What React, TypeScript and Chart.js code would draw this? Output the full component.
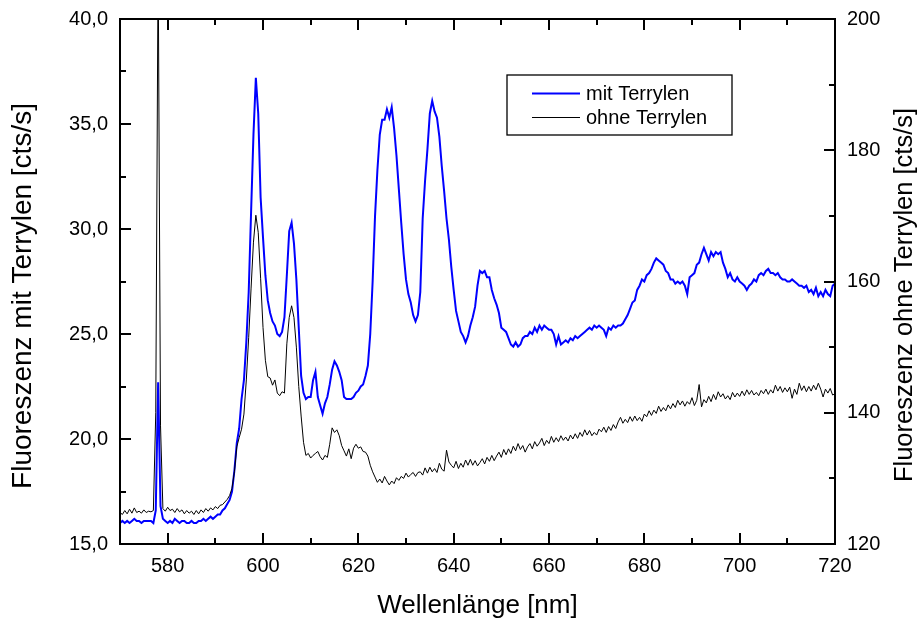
import React, { useEffect, useRef } from "react";
import { Chart, registerables } from "chart.js";

Chart.register(...registerables);

// Wavelength grid [nm]
const wavelengths = [
  570, 570.5, 571, 571.5, 572, 572.5, 573, 573.5, 574, 574.5,
  575, 575.5, 576, 576.5, 577, 577.5, 578, 578.5, 579, 579.5,
  580, 580.5, 581, 581.5, 582, 582.5, 583, 583.5, 584, 584.5,
  585, 585.5, 586, 586.5, 587, 587.5, 588, 588.5, 589, 589.5,
  590, 590.5, 591, 591.5, 592, 592.5, 593, 593.5, 594, 594.5,
  595, 595.5, 596, 596.5, 597, 597.5, 598, 598.5, 599, 599.5,
  600, 600.5, 601, 601.5, 602, 602.5, 603, 603.5, 604, 604.5,
  605, 605.5, 606, 606.5, 607, 607.5, 608, 608.5, 609, 609.5,
  610, 610.5, 611, 611.5, 612, 612.5, 613, 613.5, 614, 614.5,
  615, 615.5, 616, 616.5, 617, 617.5, 618, 618.5, 619, 619.5,
  620, 620.5, 621, 621.5, 622, 622.5, 623, 623.5, 624, 624.5,
  625, 625.5, 626, 626.5, 627, 627.5, 628, 628.5, 629, 629.5,
  630, 630.5, 631, 631.5, 632, 632.5, 633, 633.5, 634, 634.5,
  635, 635.5, 636, 636.5, 637, 637.5, 638, 638.5, 639, 639.5,
  640, 640.5, 641, 641.5, 642, 642.5, 643, 643.5, 644, 644.5,
  645, 645.5, 646, 646.5, 647, 647.5, 648, 648.5, 649, 649.5,
  650, 650.5, 651, 651.5, 652, 652.5, 653, 653.5, 654, 654.5,
  655, 655.5, 656, 656.5, 657, 657.5, 658, 658.5, 659, 659.5,
  660, 660.5, 661, 661.5, 662, 662.5, 663, 663.5, 664, 664.5,
  665, 665.5, 666, 666.5, 667, 667.5, 668, 668.5, 669, 669.5,
  670, 670.5, 671, 671.5, 672, 672.5, 673, 673.5, 674, 674.5,
  675, 675.5, 676, 676.5, 677, 677.5, 678, 678.5, 679, 679.5,
  680, 680.5, 681, 681.5, 682, 682.5, 683, 683.5, 684, 684.5,
  685, 685.5, 686, 686.5, 687, 687.5, 688, 688.5, 689, 689.5,
  690, 690.5, 691, 691.5, 692, 692.5, 693, 693.5, 694, 694.5,
  695, 695.5, 696, 696.5, 697, 697.5, 698, 698.5, 699, 699.5,
  700, 700.5, 701, 701.5, 702, 702.5, 703, 703.5, 704, 704.5,
  705, 705.5, 706, 706.5, 707, 707.5, 708, 708.5, 709, 709.5,
  710, 710.5, 711, 711.5, 712, 712.5, 713, 713.5, 714, 714.5,
  715, 715.5, 716, 716.5, 717, 717.5, 718, 718.5, 719, 719.5,
  720,
];

// Fluoreszenz mit Terrylen [cts/s] (left axis)
const mitTerrylen = [
  16.0, 16.1, 16.0, 16.1, 16.0, 16.1, 16.2, 16.1, 16.1, 16.0,
  16.1, 16.1, 16.1, 16.1, 16.0, 16.6, 22.7, 16.8, 16.2, 16.1,
  16.0, 16.1, 16.0, 16.2, 16.1, 16.0, 16.1, 16.1, 16.0, 16.0,
  16.1, 16.0, 16.0, 16.1, 16.1, 16.2, 16.1, 16.2, 16.3, 16.2,
  16.3, 16.4, 16.4, 16.6, 16.7, 16.9, 17.1, 17.5, 18.5, 19.8,
  20.5, 21.9, 22.8, 24.6, 27.0, 30.8, 34.5, 37.2, 35.5, 31.5,
  29.6, 27.8, 26.6, 26.0, 25.6, 25.4, 25.0, 24.9, 25.1, 25.8,
  27.8, 29.9, 30.3, 29.3, 27.6, 25.3, 23.0, 22.2, 21.9, 22.0,
  22.0, 22.8, 23.2, 22.0, 21.6, 21.2, 21.7, 22.0, 22.6, 23.3,
  23.7, 23.5, 23.2, 22.8, 22.0, 21.9, 21.9, 21.9, 22.0, 22.2,
  22.3, 22.5, 22.6, 23.0, 23.5, 25.0, 27.5, 30.6, 32.8, 34.5,
  35.2, 35.2, 35.7, 35.3, 35.8, 34.8, 33.5, 31.9, 30.3, 28.8,
  27.6, 26.9, 26.5, 25.9, 25.6, 25.9, 27.0, 30.5, 32.3, 33.8,
  35.5, 36.1, 35.6, 35.3, 34.4, 33.0, 31.8, 30.5, 29.5, 28.2,
  27.1, 26.1, 25.6, 25.1, 24.9, 24.6, 24.9, 25.4, 25.8, 26.3,
  27.3, 28.0, 27.9, 28.0, 27.7, 27.7, 27.1, 26.7, 26.4, 26.0,
  25.3, 25.2, 25.1, 24.8, 24.5, 24.4, 24.6, 24.4, 24.5, 24.8,
  24.9, 24.9, 25.1, 25.0, 25.3, 25.1, 25.4, 25.2, 25.4, 25.3,
  25.2, 25.2, 25.0, 24.5, 24.9, 24.5, 24.6, 24.7, 24.6, 24.8,
  24.7, 24.9, 24.8, 24.9, 25.0, 25.1, 25.2, 25.3, 25.2, 25.4,
  25.3, 25.4, 25.3, 25.2, 24.9, 25.3, 25.2, 25.4, 25.3, 25.4,
  25.4, 25.5, 25.7, 25.9, 26.2, 26.5, 26.6, 27.1, 27.3, 27.6,
  27.5, 27.8, 27.9, 28.1, 28.4, 28.6, 28.5, 28.4, 28.3, 28.0,
  27.9, 27.6, 27.6, 27.4, 27.5, 27.4, 27.5, 27.3, 26.9, 27.7,
  27.8, 27.9, 28.3, 28.4, 28.8, 29.1, 28.8, 28.5, 28.9, 28.7,
  28.9, 28.8, 28.9, 28.4, 28.1, 27.7, 27.9, 27.6, 27.5, 27.7,
  27.5, 27.4, 27.3, 27.1, 27.3, 27.4, 27.6, 27.5, 27.8, 27.9,
  27.8, 28.0, 28.1, 27.9, 27.9, 27.8, 27.9, 27.7, 27.6, 27.6,
  27.5, 27.5, 27.6, 27.5, 27.4, 27.3, 27.3, 27.2, 27.3, 27.0,
  27.1, 26.9, 27.2, 26.8, 27.0, 26.8, 27.1, 26.9, 26.8, 27.3,
  27.4,
];

// Fluoreszenz ohne Terrylen [cts/s] (right axis)
const ohneTerrylen = [
  124.8, 124.5, 125.1, 124.6, 125.3, 124.7, 125.5, 124.8, 125.0, 124.7,
  125.2, 124.8, 125.0, 124.9, 125.1, 140.0, 210.0, 138.0, 125.4, 125.0,
  125.6, 125.1, 125.3, 124.8, 125.4, 124.9, 125.2, 124.6, 125.1, 124.7,
  125.0, 124.5, 125.1, 124.6, 125.2, 124.8, 125.4, 125.0, 125.5, 125.2,
  125.7, 125.4, 125.9, 126.0, 126.4, 126.8, 127.4, 128.5, 131.0, 134.8,
  136.2, 137.5, 139.8, 145.0, 151.5, 159.0, 166.0, 170.1, 167.5, 160.5,
  153.0, 148.0, 145.5, 145.3, 144.2, 145.0, 143.0, 142.6, 143.2, 143.0,
  150.5, 154.5, 156.3, 154.5, 150.0, 144.0, 139.5, 135.5, 133.5, 133.8,
  133.1, 133.5, 133.8, 134.1, 133.3, 132.8, 133.5, 133.2, 135.2, 137.7,
  137.0, 137.4, 136.5, 135.0, 134.2, 133.4, 134.5, 133.0, 134.6, 135.2,
  134.6, 134.8, 134.1, 134.0, 133.4, 132.0, 131.0, 130.2, 129.4, 129.9,
  129.3, 130.3, 129.6, 129.0, 129.6, 129.2, 130.1, 129.7, 130.3, 130.0,
  130.8, 130.2, 130.6, 130.9, 130.3, 130.9, 131.0, 130.5, 131.6, 130.8,
  131.7, 131.0, 131.5, 130.9, 132.3, 131.4, 131.1, 134.3, 132.5, 132.0,
  131.6, 132.6, 131.5, 132.3, 131.7, 132.8, 132.0, 132.9, 132.0, 132.7,
  131.9, 132.4, 133.0, 132.2, 133.2, 132.6, 133.5, 132.7, 133.4, 134.0,
  133.2, 134.4, 133.6, 134.5, 133.8, 134.9, 134.2, 135.3, 134.4, 135.0,
  134.0, 134.8, 135.3, 134.5, 135.6, 134.9, 135.4, 136.1, 135.0, 135.8,
  135.3, 136.4, 135.5, 136.2, 135.6, 136.5, 135.8, 136.3, 135.7, 136.6,
  136.0, 136.8, 136.1, 137.0, 136.4, 137.4, 136.6, 137.3, 136.5, 137.0,
  136.6, 137.5, 137.1, 137.8, 137.0, 137.9, 137.3, 138.2, 137.6, 138.6,
  139.3, 138.4, 139.0, 138.5, 139.4, 138.7, 139.5, 138.8, 139.3, 138.7,
  139.8, 139.4, 140.3, 139.6, 140.4, 139.9, 141.0, 140.2, 140.8, 140.3,
  141.2, 140.6, 141.4, 140.8, 141.9, 141.2, 141.8, 141.0, 141.7, 141.3,
  142.3, 141.1, 141.9, 144.3, 140.9, 142.0, 141.5, 142.5, 141.7, 142.8,
  142.0, 143.2, 142.4, 142.9, 142.1, 142.6, 142.0, 143.1, 142.4, 143.0,
  142.5, 143.3, 142.6, 143.5, 142.8, 143.4, 142.7, 143.1, 142.6, 143.4,
  142.9, 143.6, 142.8, 143.5, 143.0, 144.2, 143.3, 144.0, 143.1, 143.8,
  143.2, 143.9, 142.2, 143.6, 142.8, 144.5, 143.4, 144.1, 143.2, 144.0,
  143.3, 144.2, 143.5, 144.5, 143.6, 142.4, 143.6, 143.0, 143.7, 142.7,
  142.9,
];

// Axis ticks
const xMajorTicks = [580, 600, 620, 640, 660, 680, 700, 720];
const xMinorTicks = [570, 590, 610, 630, 650, 670, 690, 710];
const yMajorTicks = [15, 20, 25, 30, 35, 40];
const yMinorTicks = [17.5, 22.5, 27.5, 32.5, 37.5];
const y2MajorTicks = [120, 140, 160, 180, 200];
const y2MinorTicks = [130, 150, 170, 190];

const seriesNames = ["mit Terrylen", "ohne Terrylen"];
const seriesColors = ["#0000ff", "#000000"];
const leftTitle = "Fluoreszenz mit Terrylen [cts/s]";
const rightTitle = "Fluoreszenz ohne Terrylen [cts/s]";
const xTitle = "Wellenlänge [nm]";

const FONT = "'Liberation Sans', Arial, Helvetica, sans-serif";

const framePlugin = {
  id: "framePlugin",
  afterDatasetsDraw(chart: any) {
    const { ctx, chartArea: a, scales } = chart;
    const xs = scales.x;
    const ys = scales.y;
    const y2s = scales.y2;
    ctx.save();
    ctx.strokeStyle = "#000";
    ctx.lineWidth = 2;
    ctx.strokeRect(a.left, a.top, a.right - a.left, a.bottom - a.top);
    const line = (x1: number, y1: number, x2: number, y2: number) => {
      ctx.beginPath();
      ctx.moveTo(x1, y1);
      ctx.lineTo(x2, y2);
      ctx.stroke();
    };
    const MAJ = 11;
    const MIN = 6;
    xMajorTicks.forEach((v) => {
      const p = Math.round(xs.getPixelForValue(v));
      line(p, a.bottom, p, a.bottom - MAJ);
      line(p, a.top, p, a.top + MAJ);
    });
    xMinorTicks.forEach((v) => {
      const p = Math.round(xs.getPixelForValue(v));
      line(p, a.bottom, p, a.bottom - MIN);
      line(p, a.top, p, a.top + MIN);
    });
    yMajorTicks.forEach((v) => {
      const p = Math.round(ys.getPixelForValue(v));
      line(a.left, p, a.left + MAJ, p);
    });
    yMinorTicks.forEach((v) => {
      const p = Math.round(ys.getPixelForValue(v));
      line(a.left, p, a.left + MIN, p);
    });
    y2MajorTicks.forEach((v) => {
      const p = Math.round(y2s.getPixelForValue(v));
      line(a.right, p, a.right - MAJ, p);
    });
    y2MinorTicks.forEach((v) => {
      const p = Math.round(y2s.getPixelForValue(v));
      line(a.right, p, a.right - MIN, p);
    });

    // Legend box
    ctx.lineWidth = 1.3;
    ctx.strokeRect(507, 75, 225, 60);
    ctx.font = `20px ${FONT}`;
    ctx.textBaseline = "middle";
    ctx.textAlign = "left";
    ctx.fillStyle = "#000";
    const rows = [93.5, 117.5];
    seriesNames.forEach((name, i) => {
      ctx.strokeStyle = seriesColors[i];
      ctx.lineWidth = i === 0 ? 2 : 1;
      line(532, rows[i], 580, rows[i]);
      ctx.fillText(name, 586, rows[i] + 1);
    });

    // Y axis titles (both read bottom to top)
    const vText = (text: string, cx: number, cy: number, size: number) => {
      ctx.save();
      ctx.translate(cx, cy);
      ctx.rotate(-Math.PI / 2);
      ctx.textAlign = "center";
      ctx.textBaseline = "middle";
      ctx.font = `${size}px ${FONT}`;
      ctx.fillStyle = "#000";
      ctx.fillText(text, 0, 0);
      ctx.restore();
    };
    vText(leftTitle, 23, 296, 28);
    vText(rightTitle, 905, 295, 25.5);
    ctx.restore();
  },
};

const fmtComma = (v: number) => v.toFixed(1).replace(".", ",");

export default function App() {
  const ref = useRef<HTMLCanvasElement | null>(null);
  useEffect(() => {
    if (!ref.current) return;
    const blue = wavelengths.map((w, i) => ({ x: w, y: mitTerrylen[i] }));
    const black = wavelengths.map((w, i) => ({ x: w, y: ohneTerrylen[i] }));
    const zeroPadV = (s: any) => {
      s.paddingTop = 0;
      s.paddingBottom = 0;
    };
    const chart = new Chart(ref.current, {
      type: "line",
      data: {
        datasets: [
          {
            label: seriesNames[0],
            data: blue,
            yAxisID: "y",
            borderColor: seriesColors[0],
            borderWidth: 2,
            pointRadius: 0,
            tension: 0,
            order: 1,
          },
          {
            label: seriesNames[1],
            data: black,
            yAxisID: "y2",
            borderColor: seriesColors[1],
            borderWidth: 1,
            pointRadius: 0,
            tension: 0,
            order: 0,
          },
        ],
      },
      options: {
        responsive: false,
        animation: false,
        layout: { padding: { top: 19, left: 0, right: 0, bottom: 0 } },
        plugins: { legend: { display: false }, tooltip: { enabled: false } },
        scales: {
          x: {
            type: "linear",
            min: 570,
            max: 720,
            grid: { display: false, drawTicks: false },
            border: { display: false },
            afterBuildTicks: (s: any) => {
              s.ticks = xMajorTicks.map((v) => ({ value: v }));
            },
            afterFit: (s: any) => {
              s.height = 75;
              s.paddingLeft = 0;
              s.paddingRight = 0;
            },
            ticks: {
              color: "#000",
              font: { family: FONT, size: 20 },
              padding: 10,
              maxRotation: 0,
              autoSkip: false,
              callback: (v: any) => String(v),
            },
            title: {
              display: true,
              text: xTitle,
              color: "#000",
              font: { family: FONT, size: 26 },
              padding: { top: 0, bottom: -2 },
            },
          },
          y: {
            type: "linear",
            position: "left",
            min: 15,
            max: 40,
            grid: { display: false, drawTicks: false },
            border: { display: false },
            afterBuildTicks: (s: any) => {
              s.ticks = yMajorTicks.map((v) => ({ value: v }));
            },
            afterFit: (s: any) => {
              s.width = 120;
              zeroPadV(s);
            },
            ticks: {
              color: "#000",
              font: { family: FONT, size: 20 },
              padding: 12,
              autoSkip: false,
              callback: (v: any) => fmtComma(Number(v)),
            },
          },
          y2: {
            type: "linear",
            position: "right",
            min: 120,
            max: 200,
            grid: { display: false, drawTicks: false },
            border: { display: false },
            afterBuildTicks: (s: any) => {
              s.ticks = y2MajorTicks.map((v) => ({ value: v }));
            },
            afterFit: (s: any) => {
              s.width = 82;
              zeroPadV(s);
            },
            ticks: {
              color: "#000",
              font: { family: FONT, size: 20 },
              padding: 12,
              autoSkip: false,
              callback: (v: any) => String(v),
            },
          },
        },
      },
      plugins: [framePlugin],
    });
    return () => chart.destroy();
  }, []);
  return (
    <div style={{ position: "absolute", left: 0, top: 0, width: 917, height: 619, background: "#fff" }}>
      <canvas ref={ref} width={917} height={619} />
    </div>
  );
}
